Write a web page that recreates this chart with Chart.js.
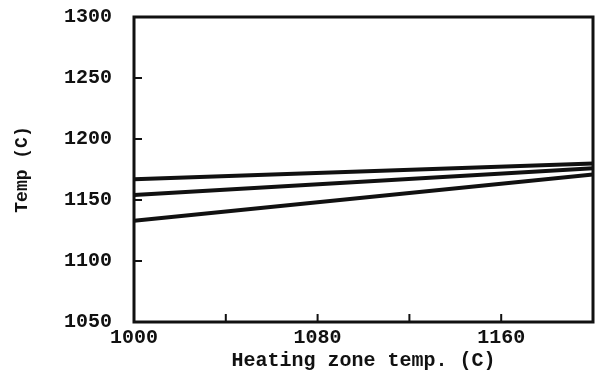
<!DOCTYPE html>
<html>
<head>
<meta charset="utf-8">
<script src="https://cdn.jsdelivr.net/npm/chart.js@4.4.0/dist/chart.umd.min.js"></script>
<style>
  html, body { margin: 0; padding: 0; background: #fff; }
  #wrap { width: 600px; height: 383px; }
</style>
</head>
<body>
<div id="wrap"><canvas id="myChart"></canvas></div>
<script>
// Data
const xValues = [1000, 1200];
const lineTop = [1167, 1180];
const lineMid = [1154, 1176];
const lineLow = [1133, 1171];

const xTicks = [1000, 1040, 1080, 1120, 1160, 1200];
const xLabelled = [1000, 1080, 1160];
const yTicks = [1050, 1100, 1150, 1200, 1250, 1300];

const font = { family: "'Liberation Mono', 'DejaVu Sans Mono', monospace", weight: 'bold' };

function toPoints(ys) {
    return xValues.map((x, i) => ({ x: x, y: ys[i] }));
}

function lineSet(ys) {
    return {
        data: toPoints(ys),
        borderColor: '#111',
        borderWidth: 4,
        pointRadius: 0,
        tension: 0
    };
}

// frame round the plot area plus inward tick marks
const frameTicks = {
    id: 'frameTicks',
    afterDraw(chart) {
        const ctx = chart.ctx;
        const a = chart.chartArea;
        const xs = chart.scales.x;
        const ys = chart.scales.y;
        ctx.save();
        ctx.strokeStyle = '#111';
        ctx.lineWidth = 3;
        ctx.strokeRect(a.left, a.top, a.right - a.left, a.bottom - a.top);
        ctx.lineWidth = 2;
        ctx.beginPath();
        xTicks.forEach(v => {
            const px = xs.getPixelForValue(v);
            ctx.moveTo(px, a.bottom);
            ctx.lineTo(px, a.bottom - 8);
        });
        yTicks.forEach(v => {
            const py = ys.getPixelForValue(v);
            ctx.moveTo(a.left, py);
            ctx.lineTo(a.left + 8, py);
        });
        ctx.stroke();
        ctx.restore();
    }
};

const ctx = document.getElementById('myChart').getContext('2d');
new Chart(ctx, {
    type: 'line',
    data: {
        datasets: [lineSet(lineTop), lineSet(lineMid), lineSet(lineLow)]
    },
    options: {
        responsive: true,
        maintainAspectRatio: false,
        animation: false,
        layout: { padding: { top: 0, right: 7, left: 0, bottom: 0 } },
        plugins: {
            legend: { display: false },
            tooltip: { enabled: false }
        },
        scales: {
            x: {
                type: 'linear',
                min: 1000,
                max: 1200,
                afterBuildTicks: scale => { scale.ticks = xTicks.map(v => ({ value: v })); },
                afterFit: scale => { scale.height = 61; },
                grid: { display: false, drawTicks: false },
                border: { display: false },
                ticks: {
                    color: '#111',
                    padding: 4,
                    maxRotation: 0,
                    autoSkip: false,
                    font: Object.assign({ size: 20 }, font),
                    callback: v => xLabelled.includes(v) ? String(v) : ''
                },
                title: {
                    display: true,
                    text: 'Heating zone temp. (C)',
                    color: '#111',
                    padding: { top: 0, bottom: 10 },
                    font: Object.assign({ size: 20 }, font)
                }
            },
            y: {
                min: 1050,
                max: 1300,
                afterBuildTicks: scale => { scale.ticks = yTicks.map(v => ({ value: v })); },
                afterFit: scale => {
                    scale.width = 134;
                    scale.paddingTop = 17;
                    scale.paddingBottom = 0;
                },
                grid: { display: false, drawTicks: false },
                border: { display: false },
                ticks: {
                    color: '#111',
                    padding: 22,
                    autoSkip: false,
                    font: Object.assign({ size: 20 }, font),
                    callback: v => String(v)
                },
                title: {
                    display: true,
                    text: 'Temp (C)',
                    color: '#111',
                    padding: { top: 12, bottom: 0 },
                    font: Object.assign({ size: 18 }, font)
                }
            }
        }
    },
    plugins: [frameTicks]
});
</script>
</body>
</html>
